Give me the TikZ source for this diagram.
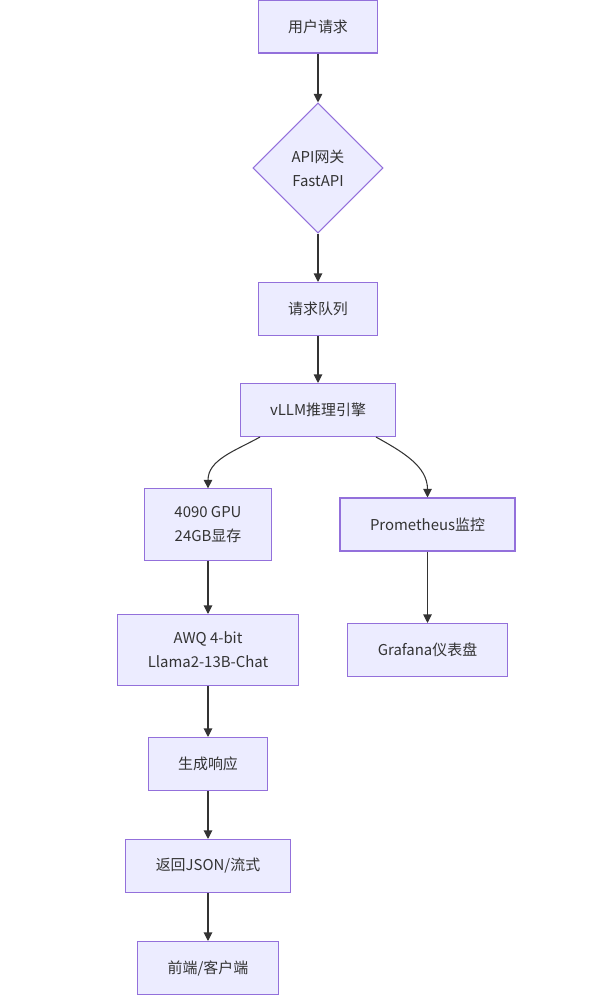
\documentclass[tikz,border=0pt]{standalone}
\usepackage{fontspec}
\setmainfont{Noto Sans CJK SC}
\usetikzlibrary{arrows.meta,positioning,shapes.geometric}

\definecolor{boxfill}{HTML}{ECECFF}
\definecolor{boxline}{HTML}{9370DB}
\definecolor{ink}{HTML}{333333}

\begin{document}
\begin{tikzpicture}[on grid,
    font=\fontsize{8.5pt}{13.6pt}\selectfont, text=ink,
    box/.style={draw=boxline, fill=boxfill, line width=0.6pt, align=center,
        inner xsep=0.6cm, inner ysep=0.35cm, minimum height=1.06cm},
    gate/.style={diamond, draw=boxline, fill=boxfill, line width=0.6pt,
        align=center, aspect=1, inner sep=0pt, minimum size=2.6cm},
    flow/.style={-{Triangle[length=1.7mm,width=1.7mm]}, draw=ink, line width=0.6pt}]
    \useasboundingbox (0,0) rectangle (11.96,-20);
    \node[box] (req) at (6.36,-0.53) {用户请求};
    \node[gate] (gw) [below=2.83cm of req] {API网关\\FastAPI};
    \node[box] (queue) [below=2.82cm of gw] {请求队列};
    \node[box] (vllm) [below=2.02cm of queue] {vLLM推理引擎};
    \node[box] (gpu) [below left=2.29cm and 2.2cm of vllm] {4090 GPU\\24GB显存};
    \node[box] (prom) [below right=2.29cm and 2.19cm of vllm] {Prometheus监控};
    \node[box] (awq) [below=2.51cm of gpu] {AWQ 4-bit\\Llama2-13B-Chat};
    \node[box] (graf) [below=2.51cm of prom] {Grafana仪表盘};
    \node[box] (gen) [below=2.28cm of awq] {生成响应};
    \node[box] (ret) [below=2.04cm of gen] {返回JSON/流式};
    \node[box] (front) [below=2.04cm of ret] {前端/客户端};
    \path
        (req) edge[flow] (gw)
        (gw) edge[flow] (queue)
        (queue) edge[flow] (vllm)
        ([xshift=-1.16cm]vllm.south) edge[flow,out=-151,in=90] (gpu.north)
        ([xshift=1.16cm]vllm.south) edge[flow,out=-29,in=90] (prom.north)
        (gpu) edge[flow] (awq)
        (prom) edge[flow] (graf)
        (awq) edge[flow] (gen)
        (gen) edge[flow] (ret)
        (ret) edge[flow] (front);
\end{tikzpicture}
\end{document}
